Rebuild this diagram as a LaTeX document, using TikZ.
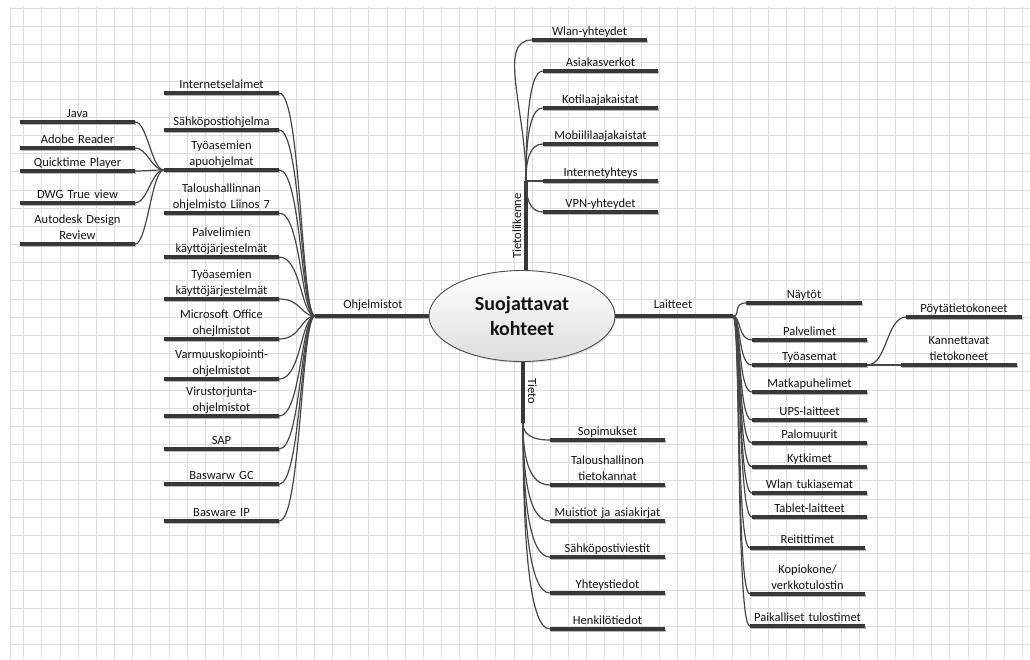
\documentclass[tikz,border=0pt]{standalone}
\usepackage{fontspec}
\setmainfont{Carlito}
\usetikzlibrary{shapes.geometric,calc,shadows}
\newcommand\leaffont{\fontsize{12.5}{16}\selectfont\hyphenpenalty=10000\exhyphenpenalty=10000}
\newcommand\rootfont{\fontsize{20}{25}\selectfont\bfseries}
% a topic: label above a thick underline bar, anchored on the bar
\newcommand\mmleaf[4]{%
  \node[leaf] (#1) at (#2,#3) {#4\strut};
  \draw[barshade] ($(#1.south west)+(1,1.3)$) -- ($(#1.south east)+(1,1.3)$);
  \draw[barline] (#1.south west) -- (#1.south east);
}
\begin{document}
\begin{tikzpicture}[x=1pt,y=-1pt,
  gridline/.style={draw=black!13, line width=1.3pt},
  link/.style={draw=black!72, line width=1.2pt},
  barline/.style={draw=black!78, line width=3.6pt},
  barshade/.style={draw=black!28, line width=3.6pt},
  branch/.style={draw=black!78, line width=4pt},
  leaf/.style={text width=115pt, align=center, inner sep=0pt, anchor=south,
    font=\leaffont, text=black!92},
  sublabel/.style={font=\leaffont, text=black!92, inner sep=0pt, anchor=base},
  root/.style={ellipse, draw=black!70, line width=0.9pt, top color=white,
    bottom color=black!13, minimum width=186pt, minimum height=91pt,
    inner sep=0pt, align=center, font=\rootfont, text=black!92,
    drop shadow={opacity=0.2, shadow xshift=1.5pt, shadow yshift=-1.5pt}}
]
\useasboundingbox (0,0) rectangle (1030,659);
\fill[white] (0,0) rectangle (1030,659);

% squared paper, lines snapped to whole pixels
\draw[gridline] (10.5,7) -- (10.5,659);
\foreach \i in {0,...,55} {
  \pgfmathsetmacro\gx{round(23.3+18.16*\i)+0.5}
  \draw[gridline] (\gx,7) -- (\gx,659);
}
\foreach \j in {0,...,35} {
  \pgfmathsetmacro\gy{round(7.8+18.18*\j)+0.5}
  \draw[gridline] (10,\gy) -- (1030,\gy);
}

% hubs where the branches split
\coordinate (hubO) at (315,316);
\coordinate (hubL) at (733,316);
\coordinate (hubT) at (526,181);
\coordinate (hubD) at (523,423);

% central topic
\node[root] (root) at (522,316) {Suojattavat\\kohteet};

% main branches
\draw[barshade] ($(root.west)+(0,1.3)$) -- ($(hubO)+(0,1.3)$);
\draw[branch] (root.west) -- (hubO);
\draw[barshade] ($(root.east)+(0,1.3)$) -- ($(hubL)+(1,1.3)$);
\draw[branch] (root.east) -- (hubL);
\draw[branch] (hubT) -- (hubT |- root.north);
\draw[branch] (hubD) -- (hubD |- root.south);

\node[sublabel] (lblO) at (373,308.5) {Ohjelmistot};
\node[sublabel] (lblL) at (673,308.5) {Laitteet};
\node[sublabel, rotate=90] (lblT) at (521,226) {Tietoliikenne};
\node[sublabel, rotate=-90] (lblD) at (528,391) {Tieto};

% Ohjelmistot
\mmleaf{o1}{221.5}{93}{Internetselaimet}
\mmleaf{o2}{221.5}{130}{Sähköpostiohjelma}
\mmleaf{o3}{221.5}{170}{Työasemien\\apuohjelmat}
\mmleaf{o4}{221.5}{213}{Taloushallinnan\\ohjelmisto Liinos 7}
\mmleaf{o5}{221.5}{257}{Palvelimien\\käyttöjärjestelmät}
\mmleaf{o6}{221.5}{299}{Työasemien\\käyttöjärjestelmät}
\mmleaf{o7}{221.5}{339}{Microsoft Office\\ohejlmistot}
\mmleaf{o8}{221.5}{379}{Varmuuskopiointi-\\ohjelmistot}
\mmleaf{o9}{221.5}{416}{Virustorjunta-\\ohjelmistot}
\mmleaf{o10}{221.5}{449}{SAP}
\mmleaf{o11}{221.5}{484}{Baswarw GC}
\mmleaf{o12}{221.5}{521}{Basware IP}

% Työasemien apuohjelmat
\mmleaf{a1}{77.5}{122}{Java}
\mmleaf{a2}{77.5}{148}{Adobe Reader}
\mmleaf{a3}{77.5}{171}{Quicktime Player}
\mmleaf{a4}{77.5}{203}{DWG True view}
\mmleaf{a5}{77.5}{244}{Autodesk Design\\Review}

% Tietoliikenne
\mmleaf{t1}{589.5}{40}{Wlan-yhteydet}
\mmleaf{t2}{600.5}{71}{Asiakasverkot}
\mmleaf{t3}{600.5}{108}{Kotilaajakaistat}
\mmleaf{t4}{600.5}{144}{Mobiililaajakaistat}
\mmleaf{t5}{600.5}{181}{Internetyhteys}
\mmleaf{t6}{600.5}{212}{VPN-yhteydet}

% Laitteet
\mmleaf{l1}{804}{303}{Näytöt}
\mmleaf{l2}{809.5}{340}{Palvelimet}
\mmleaf{l3}{809.5}{365}{Työasemat}
\mmleaf{l4}{809.5}{392}{Matkapuhelimet}
\mmleaf{l5}{809.5}{420}{UPS-laitteet}
\mmleaf{l6}{809.5}{443}{Palomuurit}
\mmleaf{l7}{809.5}{467}{Kytkimet}
\mmleaf{l8}{809.5}{493}{Wlan tukiasemat}
\mmleaf{l9}{809.5}{517}{Tablet-laitteet}
\mmleaf{l10}{807.5}{548}{Reitittimet}
\mmleaf{l11}{807.5}{594}{Kopiokone/\\verkkotulostin}
\mmleaf{l12}{807.5}{626}{Paikalliset tulostimet}

% Työasemat
\mmleaf{w1}{964}{317}{Pöytätietokoneet}
\mmleaf{w2}{959}{365}{Kannettavat\\tietokoneet}

% Tieto
\mmleaf{d1}{607.5}{440}{Sopimukset}
\mmleaf{d2}{607.5}{485}{Taloushallinon\\tietokannat}
\mmleaf{d3}{607.5}{521}{Muistiot ja asiakirjat}
\mmleaf{d4}{607.5}{557}{Sähköpostiviestit}
\mmleaf{d5}{607.5}{593}{Yhteystiedot}
\mmleaf{d6}{607.5}{629}{Henkilötiedot}

% connectors
\foreach \n in {o1,o2,o3,o4,o5,o6,o7,o8,o9,o10,o11,o12}
  \draw[link] (\n.south east) .. controls ($(\n.south east)+(22,0)$) and ($(hubO)+(-14,0)$) .. (hubO);
\foreach \n in {a1,a2,a3,a4,a5}
  \draw[link] (\n.south east) .. controls ($(\n.south east)+(12,0)$) and ($(o3.south west)+(-12,0)$) .. (o3.south west);
\draw[link] (hubT) .. controls ($(hubT)+(0,-70)$) and ($(t1.south west)+(-35,0)$) .. (t1.south west);
\foreach \n in {t2,t3,t4,t5,t6}
  \draw[link] (hubT) .. controls ($(hubT)!0.5!(hubT |- \n.south west)$) and ($(\n.south west)+(-14,0)$) .. (\n.south west);
\foreach \n in {l1,l2,l3,l4,l5,l6,l7,l8,l9,l10,l11,l12}
  \draw[link] (hubL) .. controls ($(hubL)+(8,0)$) and ($(\n.south west)+(-14,0)$) .. (\n.south west);
\foreach \n in {d1,d2,d3,d4,d5,d6}
  \draw[link] (hubD) .. controls ($(hubD)!0.5!(hubD |- \n.south west)$) and ($(\n.south west)+(-22,0)$) .. (\n.south west);
\draw[link] (l3.south east) -- (w2.south west);
\draw[link] (l3.south east) .. controls ($(l3.south east)+(20,0)$) and ($(w1.south west)+(-20,0)$) .. (w1.south west);
\end{tikzpicture}
\end{document}
